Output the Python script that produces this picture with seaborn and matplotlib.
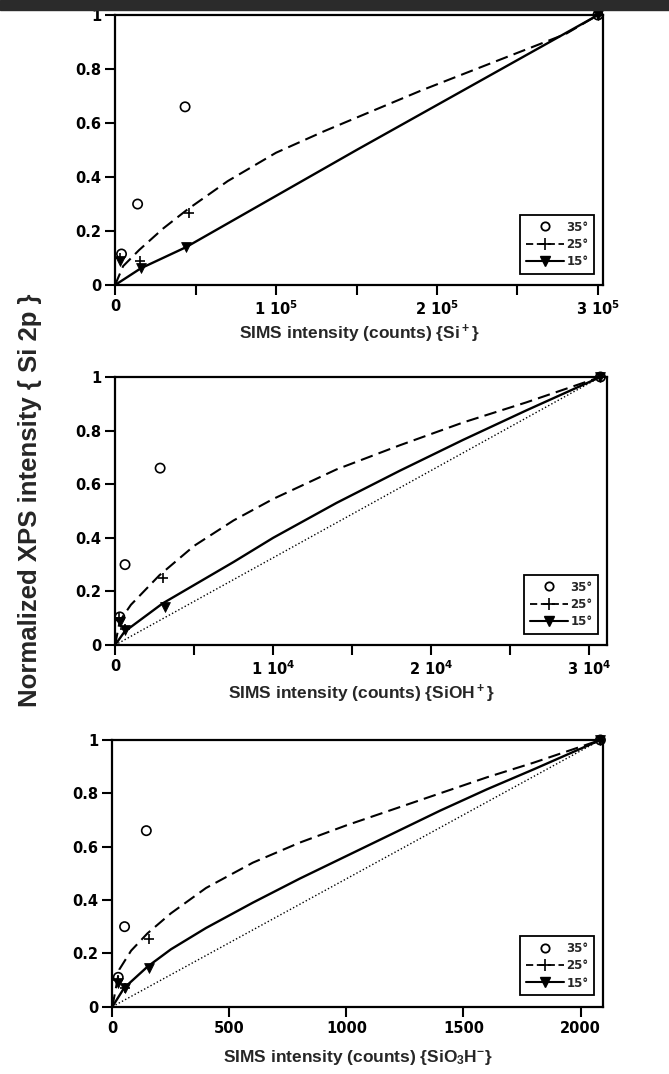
import numpy as np
import pandas as pd
import matplotlib
matplotlib.use("Agg")
import matplotlib.pyplot as plt
from matplotlib.lines import Line2D
from matplotlib.patches import Rectangle
import seaborn as sns

# Style (set fonts after seaborn, it resets font.family)
sns.set_theme(style="ticks")
plt.rcParams['font.family'] = ['Liberation Sans', 'DejaVu Sans']
plt.rcParams['font.weight'] = 'bold'
plt.rcParams['mathtext.fontset'] = 'custom'
plt.rcParams['mathtext.rm'] = 'Liberation Sans:bold'
plt.rcParams['mathtext.bf'] = 'Liberation Sans:bold'
plt.rcParams['mathtext.it'] = 'Liberation Sans:bold'
plt.rcParams['mathtext.default'] = 'regular'

# ---- data ----
angles = ['35°', '25°', '15°']
y_ticks = [0, 0.2, 0.4, 0.6, 0.8, 1]
y_tick_labels = ['0', '0.2', '0.4', '0.6', '0.8', '1']

# panel 1 : Si+
si_xticks = [0, 100000, 200000, 300000]
si_xtick_labels = ['0', '1 10$^5$', '2 10$^5$', '3 10$^5$']
si_minor = [50000, 150000, 250000]
si_xmax = 303000
si_35_x = [4000, 14000, 43500, 300000]
si_35_y = [0.115, 0.30, 0.66, 1.0]
si_25_x = [3000, 15500, 46000, 300000]
si_25_y = [0.10, 0.09, 0.265, 1.0]
si_15_x = [3000, 16000, 44000, 300000]
si_15_y = [0.09, 0.062, 0.14, 1.0]
si_fit25_x = [0, 5000, 15000, 30000, 45000, 70000, 100000, 130000, 160000,
              190000, 220000, 250000, 280000, 300000]
si_fit25_y = [0, 0.07, 0.13, 0.21, 0.28, 0.385, 0.49, 0.57, 0.645,
              0.72, 0.79, 0.86, 0.93, 1.0]
si_fit15_x = [0, 16000, 44000, 150000, 300000]
si_fit15_y = [0, 0.062, 0.14, 0.50, 1.0]

# panel 2 : SiOH+
sioh_xticks = [0, 10000, 20000, 30000]
sioh_xtick_labels = ['0', '1 10$^4$', '2 10$^4$', '3 10$^4$']
sioh_minor = [5000, 15000, 25000]
sioh_xmax = 31100
sioh_35_x = [300, 630, 2850, 30700]
sioh_35_y = [0.105, 0.30, 0.66, 1.0]
sioh_25_x = [250, 600, 3050, 30700]
sioh_25_y = [0.10, 0.06, 0.25, 1.0]
sioh_15_x = [300, 630, 3150, 30700]
sioh_15_y = [0.085, 0.056, 0.143, 1.0]
sioh_fit25_x = [0, 300, 1000, 2800, 5000, 7500, 10000, 14000, 18000,
                22000, 26000, 30700]
sioh_fit25_y = [0, 0.09, 0.15, 0.26, 0.37, 0.465, 0.545, 0.655, 0.745,
                0.83, 0.905, 1.0]
sioh_fit15_x = [0, 600, 3000, 7500, 10000, 14000, 18000, 22000, 26000, 30700]
sioh_fit15_y = [0, 0.05, 0.155, 0.31, 0.40, 0.53, 0.65, 0.765, 0.875, 1.0]
sioh_ref_x = [0, 30700]
sioh_ref_y = [0, 1.0]

# panel 3 : SiO3H-
sio3h_xticks = [0, 500, 1000, 1500, 2000]
sio3h_xtick_labels = ['0', '500', '1000', '1500', '2000']
sio3h_minor = []
sio3h_xmax = 2095
sio3h_35_x = [25, 52, 145, 2085]
sio3h_35_y = [0.11, 0.30, 0.66, 1.0]
sio3h_25_x = [25, 55, 155, 2085]
sio3h_25_y = [0.10, 0.07, 0.255, 1.0]
sio3h_15_x = [25, 52, 155, 2085]
sio3h_15_y = [0.09, 0.07, 0.144, 1.0]
sio3h_fit25_x = [0, 30, 80, 150, 250, 400, 600, 800, 1000, 1200, 1400,
                 1600, 1800, 2085]
sio3h_fit25_y = [0, 0.14, 0.21, 0.275, 0.35, 0.445, 0.54, 0.615, 0.68,
                 0.74, 0.80, 0.86, 0.915, 1.0]
sio3h_fit15_x = [0, 50, 150, 250, 400, 600, 800, 1000, 1200, 1400, 1600,
                 1800, 2085]
sio3h_fit15_y = [0, 0.07, 0.15, 0.215, 0.295, 0.39, 0.48, 0.565, 0.65,
                 0.735, 0.815, 0.89, 1.0]
sio3h_ref_x = [0, 2085]
sio3h_ref_y = [0, 1.0]

DASH = (0, (6, 3))
DOT = (0, (1, 1.6))
TICK_FONT = 'DejaVu Sans'


def draw_panel(ax, pts35, pts25, pts15, fit25, fit15, ref, xlabel,
               xticks, xlabels, minor, xmax, labelpad=4):
    # fitted curves
    sns.lineplot(x=fit25[0], y=fit25[1], ax=ax, color='black', lw=1.5,
                 linestyle=DASH, sort=False, estimator=None)
    sns.lineplot(x=fit15[0], y=fit15[1], ax=ax, color='black', lw=1.7,
                 sort=False, estimator=None)
    if ref is not None:
        sns.lineplot(x=ref[0], y=ref[1], ax=ax, color='black', lw=1.0,
                     linestyle=DOT, sort=False, estimator=None)
    # measured points
    sns.scatterplot(x=pts35[0], y=pts35[1], ax=ax, marker='o', s=45,
                    facecolor='none', edgecolor='black', linewidth=1.2,
                    zorder=4, clip_on=False)
    sns.scatterplot(x=pts25[0], y=pts25[1], ax=ax, marker='+', s=60,
                    color='black', linewidth=1.2, zorder=4, clip_on=False)
    sns.scatterplot(x=pts15[0], y=pts15[1], ax=ax, marker='v', s=50,
                    color='black', edgecolor='black', zorder=4, clip_on=False)

    ax.set_xlim(0, xmax)
    ax.set_ylim(0, 1)
    ax.set_xticks(xticks)
    ax.set_xticklabels(xlabels)
    ax.set_xticks(minor, minor=True)
    ax.set_yticks(y_ticks)
    ax.set_yticklabels(y_tick_labels)
    ax.tick_params(which='both', direction='out', length=7, width=1.5,
                   labelsize=10.5, colors='black', pad=3)
    for lab in ax.get_xticklabels() + ax.get_yticklabels():
        lab.set_fontweight('bold')
        lab.set_fontfamily(TICK_FONT)
    for sp in ax.spines.values():
        sp.set_visible(True)
        sp.set_linewidth(1.6)
        sp.set_color('black')
    ax.set_xlabel(xlabel, fontsize=12.5, fontweight='bold', labelpad=labelpad)
    ax.set_ylabel('')

    handles = [
        Line2D([], [], marker='o', ls='none', mfc='none', mec='black', ms=6, mew=1.3),
        Line2D([], [], marker='+', ls=(0, (4, 2)), color='black', ms=8, lw=1.3, mew=1.2),
        Line2D([], [], marker='v', ls='-', color='black', ms=7, lw=1.5),
    ]
    leg = ax.legend(handles, angles, loc='lower right',
                    handlelength=3.2, handletextpad=0.2, borderpad=0.5,
                    labelspacing=0.35, fancybox=False, framealpha=1,
                    edgecolor='black', bbox_to_anchor=(0.995, 0.02),
                    prop={'family': TICK_FONT, 'weight': 'bold', 'size': 8.5})
    leg.get_frame().set_linewidth(1.3)


fig = plt.figure(figsize=(6.69, 10.74), dpi=100)
ax1 = fig.add_axes([0.172, 0.7346, 0.729, 0.2514])
ax2 = fig.add_axes([0.172, 0.3994, 0.735, 0.2496])
ax3 = fig.add_axes([0.168, 0.0627, 0.733, 0.2483])

draw_panel(ax1, (si_35_x, si_35_y), (si_25_x, si_25_y), (si_15_x, si_15_y),
           (si_fit25_x, si_fit25_y), (si_fit15_x, si_fit15_y), None,
           'SIMS intensity (counts) {Si$^+$}',
           si_xticks, si_xtick_labels, si_minor, si_xmax)
draw_panel(ax2, (sioh_35_x, sioh_35_y), (sioh_25_x, sioh_25_y), (sioh_15_x, sioh_15_y),
           (sioh_fit25_x, sioh_fit25_y), (sioh_fit15_x, sioh_fit15_y),
           (sioh_ref_x, sioh_ref_y),
           'SIMS intensity (counts) {SiOH$^+$}',
           sioh_xticks, sioh_xtick_labels, sioh_minor, sioh_xmax)
draw_panel(ax3, (sio3h_35_x, sio3h_35_y), (sio3h_25_x, sio3h_25_y), (sio3h_15_x, sio3h_15_y),
           (sio3h_fit25_x, sio3h_fit25_y), (sio3h_fit15_x, sio3h_fit15_y),
           (sio3h_ref_x, sio3h_ref_y),
           'SIMS intensity (counts) {SiO$_3$H$^{-}$}',
           sio3h_xticks, sio3h_xtick_labels, sio3h_minor, sio3h_xmax, labelpad=9)

# shared y label
fig.text(0.045, 1 - 500 / 1074, 'Normalized XPS intensity { Si 2p }', rotation=90,
         ha='center', va='center', fontsize=18.5, fontweight='bold')

# dark strip at the top of the scan
fig.patches.append(Rectangle((0, 1 - 10 / 1074), 1, 10 / 1074,
                             transform=fig.transFigure, color='#2b2b2b', zorder=10))

fig.savefig('out.png', dpi=100, facecolor='white')
